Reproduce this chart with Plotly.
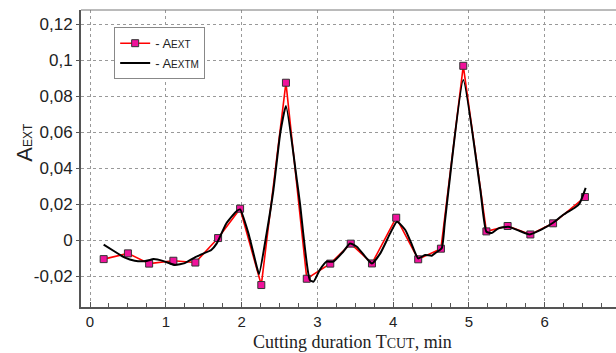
import plotly.graph_objects as go

# A_EXT measured points
t_ext = [0.18, 0.50, 0.78, 1.10, 1.39, 1.69, 1.98, 2.26, 2.585, 2.86, 3.17, 3.44,
         3.72, 4.04, 4.33, 4.63, 4.925, 5.23, 5.51, 5.81, 6.11, 6.53]
a_ext = [-0.0106, -0.0074, -0.0131, -0.0115, -0.0125, 0.0011, 0.0174, -0.025, 0.0874,
         -0.0215, -0.0131, -0.002, -0.013, 0.0124, -0.0107, -0.0048, 0.0968, 0.0048,
         0.0078, 0.0031, 0.0093, 0.0239]

# A_EXTM model curve
t_mod = [0.18, 0.33, 0.46, 0.59, 0.73, 0.84, 0.97, 1.12, 1.25, 1.39, 1.5, 1.6, 1.67,
         1.80, 1.94, 1.98, 2.09, 2.20, 2.23, 2.33, 2.42, 2.51, 2.585, 2.73, 2.77, 2.90,
         2.95, 3.03, 3.12, 3.21, 3.34, 3.43, 3.52, 3.65, 3.72, 3.83, 3.96, 4.05, 4.16,
         4.24, 4.33, 4.42, 4.51, 4.55, 4.64, 4.68, 4.73, 4.925, 5.15, 5.23, 5.30, 5.39,
         5.52, 5.67, 5.80, 5.96, 6.11, 6.24, 6.40, 6.46, 6.54]
a_mod = [-0.0025, -0.0065, -0.0098, -0.0115, -0.0117, -0.0106, -0.0117, -0.0139, -0.0128,
         -0.0095, -0.0074, -0.0055, -0.002, 0.0093, 0.0163, 0.017, 0.0037, -0.0148,
         -0.0189, 0.0037, 0.0278, 0.0593, 0.0744, 0.033, 0.0204, -0.0222, -0.0231,
         -0.0167, -0.012, -0.012, -0.0065, -0.0019, -0.0037, -0.0102, -0.013, -0.0074,
         0.0037, 0.0102, 0.0056, -0.0019, -0.0102, -0.0083, -0.0087, -0.0074, -0.0046,
         0.0093, 0.0278, 0.0889, 0.0278, 0.0046, 0.0039, 0.0065, 0.0074, 0.005, 0.0031,
         0.0059, 0.0096, 0.0139, 0.0181, 0.0204, 0.0290]

y_ticks = [-0.02, 0, 0.02, 0.04, 0.06, 0.08, 0.1, 0.12]
y_labels = ["-0,02", "0", "0,02", "0,04", "0,06", "0,08", "0,1", "0,12"]
x_ticks = [0, 1, 2, 3, 4, 5, 6, 7]
x_labels = ["0", "1", "2", "3", "4", "5", "6", "7"]

fig = go.Figure()
fig.add_trace(go.Scatter(
    x=t_ext, y=a_ext, mode="lines+markers",
    name="- A<span style='font-size:10px'>EXT</span>",
    line=dict(color="#ff0000", width=1.6),
    marker=dict(symbol="square", size=7, color="#f0129b",
                line=dict(color="#333333", width=1)),
))
fig.add_trace(go.Scatter(
    x=t_mod, y=a_mod, mode="lines",
    name="- A<span style='font-size:10px'>EXTM</span>",
    line=dict(color="#000000", width=2, shape="spline", smoothing=0.5),
))

y_font = dict(family="Liberation Sans, Arial, sans-serif", size=17, color="#222222")
x_font = dict(family="Liberation Sans, Arial, sans-serif", size=15, color="#222222")

fig.update_layout(
    width=616, height=353,
    margin=dict(l=81, r=0, t=10, b=46),
    paper_bgcolor="white", plot_bgcolor="white",
    showlegend=True,
    legend=dict(x=0.062, y=0.942, xanchor="left", yanchor="top",
                bgcolor="white", bordercolor="#888888", borderwidth=1,
                font=dict(family="Liberation Sans, Arial, sans-serif", size=13, color="#222222"),
                itemwidth=30, tracegroupgap=0),
    xaxis=dict(range=[-0.119, 6.94], tickvals=x_ticks, ticktext=x_labels,
               showgrid=True, gridcolor="#999999", griddash="dot", gridwidth=1,
               showline=True, linecolor="#555555", linewidth=2,
               ticks="inside", ticklen=5, tickcolor="#555555",
               minor=dict(dtick=0.25, ticks="inside", ticklen=4, tickcolor="#555555", showgrid=False),
               tickfont=x_font, zeroline=False),
    yaxis=dict(range=[-0.0372, 0.1278], tickvals=y_ticks, ticktext=y_labels,
               showgrid=True, gridcolor="#999999", griddash="dot", gridwidth=1,
               showline=True, linecolor="#555555", linewidth=2,
               ticks="outside", ticklen=3, tickcolor="#555555",
               tickfont=y_font, zeroline=False),
    shapes=[dict(type="line", xref="paper", yref="paper", x0=0, x1=1, y0=1, y1=1,
                 line=dict(color="#777777", width=1))],
    annotations=[
        dict(xref="paper", yref="paper", x=-0.105, y=0.556, textangle=-90,
             text="A<span style='font-size:12px'>EXT</span>", showarrow=False,
             font=dict(family="Liberation Sans, Arial, sans-serif", size=22, color="#222222"),
             xanchor="center", yanchor="middle"),
        dict(xref="paper", yref="paper", x=0.507, y=-0.119,
             text="Cutting duration T<span style='font-size:14px'>CUT</span>, min", showarrow=False,
             font=dict(family="Liberation Serif, Times New Roman, serif", size=18, color="#222222"),
             xanchor="center", yanchor="middle", borderpad=0),
    ],
)

fig.write_html("out.html")
